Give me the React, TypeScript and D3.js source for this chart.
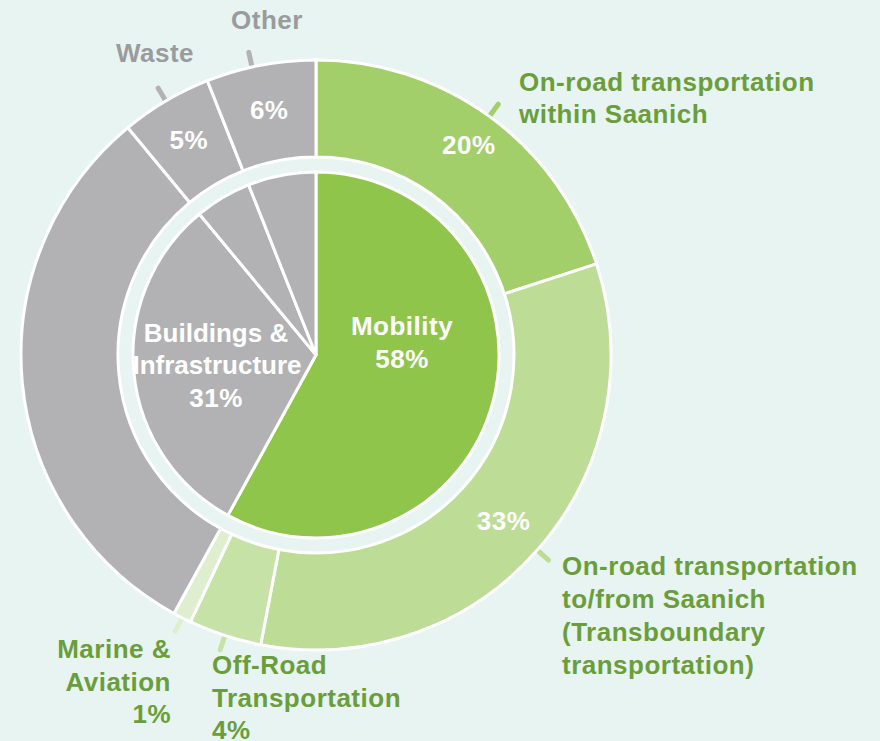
import React from 'react';
import * as d3 from 'd3';

// outer ring: sub-sectors, clockwise from 12 o'clock
const outerNames = [
  'On-road within Saanich',
  'On-road to/from Saanich',
  'Off-Road Transportation',
  'Marine & Aviation',
  'Buildings & Infrastructure',
  'Waste',
  'Other',
];
const outerValues = [20, 33, 4, 1, 31, 5, 6];
const outerColors = ['#a2cf6a', '#bddc95', '#c7e2a7', '#e0eed0', '#b2b2b4', '#b2b2b4', '#b2b2b4'];
const outerPctShown = [true, true, false, false, false, true, true];

// inner pie: sectors
const innerNames = ['Mobility', 'Buildings & Infrastructure', 'Waste', 'Other'];
const innerValues = [58, 31, 5, 6];
const innerColors = ['#8fc54b', '#b2b2b4', '#b2b2b4', '#b2b2b4'];

const W = 880;
const H = 741;
const cx = 316;
const cy = 355;
const rOuter = 295;
const rRingInner = 198;
const rPie = 183;

const BG = '#e8f4f1';
const GREEN_TXT = '#6a9e3a';
const GRAY_TXT = '#9a9b9d';
const FONT = '"Liberation Sans", Arial, Helvetica, sans-serif';

export default function App() {
  const pie = d3.pie<number>().sort(null).value(d => d);
  const outerArcs = pie(outerValues);
  const innerArcs = pie(innerValues);

  const outerArc = d3.arc<d3.PieArcDatum<number>>().innerRadius(rRingInner).outerRadius(rOuter);
  const innerArc = d3.arc<d3.PieArcDatum<number>>().innerRadius(0).outerRadius(rPie);

  const polar = (a: number, r: number): [number, number] => [Math.sin(a) * r, -Math.cos(a) * r];
  const mid = (d: d3.PieArcDatum<number>) => (d.startAngle + d.endAngle) / 2;

  const fmt = (v: number) => `${v}%`;
  const txt = { fontFamily: FONT, fontWeight: 700, fontSize: 26, letterSpacing: 0.5 } as const;
  const txtIn = { ...txt, letterSpacing: 0 };

  return (
    <svg width={W} height={H} style={{ position: 'fixed', left: 0, top: 0, background: BG }}>
      <rect width={W} height={H} fill={BG} />
      <g transform={`translate(${cx},${cy})`}>
        {/* leader ticks */}
        {outerArcs.map((d, i) => {
          if (i === 4) return null;
          const a = i === 6 ? mid(d) - 0.03 : mid(d);
          const [x1, y1] = polar(a, rOuter - 2);
          const [x2, y2] = polar(a, rOuter + 15);
          return (
            <line key={'t' + i} x1={x1} y1={y1} x2={x2} y2={y2}
              stroke={outerColors[i]} strokeWidth={5} strokeLinecap="round" />
          );
        })}
        {outerArcs.map((d, i) => (
          <path key={'o' + i} d={outerArc(d) || ''} fill={outerColors[i]}
            stroke="#fff" strokeWidth={3} strokeLinejoin="round" />
        ))}
        {innerArcs.map((d, i) => (
          <path key={'i' + i} d={innerArc(d) || ''} fill={innerColors[i]}
            stroke="#fff" strokeWidth={3} strokeLinejoin="round" />
        ))}
        {/* percentages inside the outer ring */}
        {outerArcs.map((d, i) => {
          if (!outerPctShown[i]) return null;
          const [x, y] = polar(mid(d), i === 0 ? 260 : 250);
          return (
            <text key={'p' + i} x={x} y={y} dy="0.36em" textAnchor="middle" fill="#fff" style={txt}>
              {fmt(outerValues[i])}
            </text>
          );
        })}
        {/* inner labels */}
        <text x={86} y={-20} textAnchor="middle" fill="#fff" style={txt}>{innerNames[0]}</text>
        <text x={86} y={13} textAnchor="middle" fill="#fff" style={txt}>{fmt(innerValues[0])}</text>
        <text x={-100} y={-13} textAnchor="middle" fill="#fff" style={txtIn}>Buildings &amp;</text>
        <text x={-99} y={19} textAnchor="middle" fill="#fff" style={txtIn}>Infrastructure</text>
        <text x={-100} y={52} textAnchor="middle" fill="#fff" style={txt}>{fmt(innerValues[1])}</text>
      </g>

      {/* outside labels */}
      <text x={267} y={29} textAnchor="middle" fill={GRAY_TXT} style={txt}>{outerNames[6]}</text>
      <text x={155} y={62} textAnchor="middle" fill={GRAY_TXT} style={txt}>{outerNames[5]}</text>

      <text fill={GREEN_TXT} style={txt}>
        <tspan x={519} y={91}>On-road transportation</tspan>
        <tspan x={519} y={123}>within Saanich</tspan>
      </text>

      <text fill={GREEN_TXT} style={txt}>
        <tspan x={562} y={575}>On-road transportation</tspan>
        <tspan x={562} y={608}>to/from Saanich</tspan>
        <tspan x={562} y={641}>(Transboundary</tspan>
        <tspan x={562} y={674}>transportation)</tspan>
      </text>

      <text fill={GREEN_TXT} style={txt} textAnchor="end">
        <tspan x={171} y={658}>Marine &amp;</tspan>
        <tspan x={171} y={691}>Aviation</tspan>
        <tspan x={171} y={723}>{fmt(outerValues[3])}</tspan>
      </text>

      <text fill={GREEN_TXT} style={txt}>
        <tspan x={212} y={674}>Off-Road</tspan>
        <tspan x={212} y={707}>Transportation</tspan>
        <tspan x={212} y={739}>{fmt(outerValues[2])}</tspan>
      </text>
    </svg>
  );
}
